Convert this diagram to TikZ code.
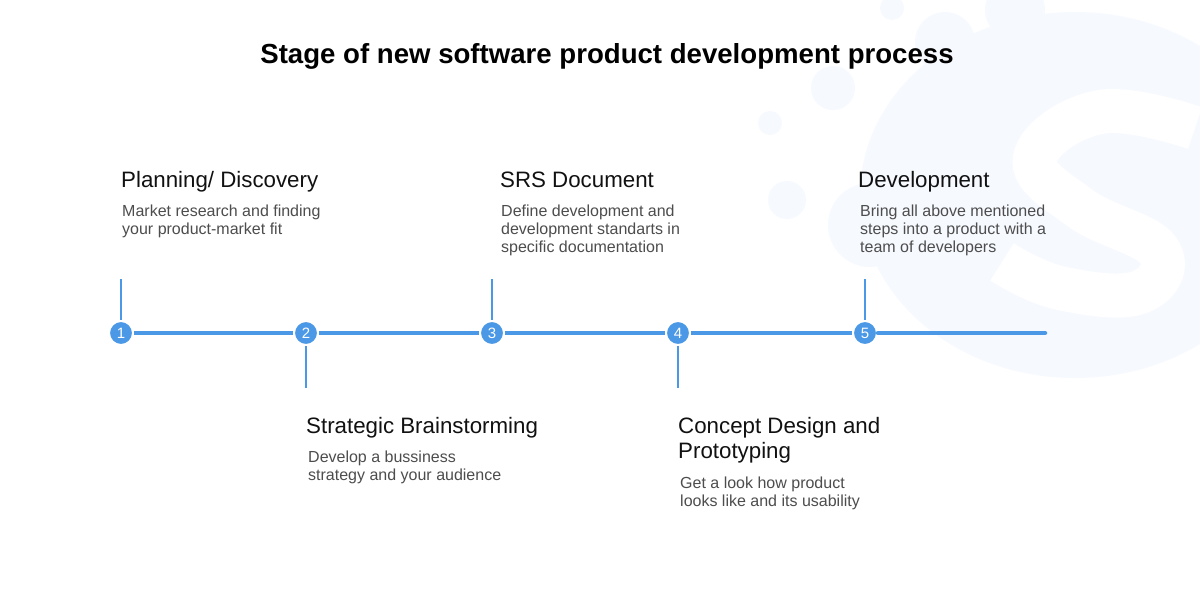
\documentclass[tikz,border=0pt]{standalone}
\usepackage{fontspec}
\setmainfont{Liberation Sans}

\definecolor{azul}{HTML}{4A98E6}
\definecolor{fondo}{HTML}{F6F9FE}
\definecolor{gris}{HTML}{4D4D4D}
\definecolor{negro}{HTML}{111111}

\begin{document}
\begin{tikzpicture}[x=1pt, y=-1pt,
    paso/.style={
        circle,
        fill=azul,
        draw=white,
        line width=2pt,
        minimum size=24pt,
        inner sep=0pt,
        text=white,
        font=\fontsize{15}{15}\selectfont
    },
    etapa/.style={
        anchor=base west,
        inner sep=0pt,
        align=left,
        text=negro,
        font=\fontsize{22.3}{25}\selectfont
    },
    detalle/.style={
        anchor=base west,
        inner sep=0pt,
        align=left,
        text=gris,
        font=\fontsize{16}{18}\selectfont
    },
    linea/.style={
        draw=azul,
        line width=4.5pt
    },
    marca/.style={
        draw=azul,
        line width=1.5pt
    }
]

\useasboundingbox[fill=white] (0,0) rectangle (1200,600);

%------------------------------------------------
% Fondo (logo)
%------------------------------------------------
\fill[fondo] (1075,195) ellipse [x radius=215, y radius=183];
\foreach \x/\y/\r in {770/123/12, 787/200/19, 833/88/22, 892/8/12,
                      945/42/30, 1015/10/30, 870/225/42} {
    \fill[fondo] (\x,\y) circle (\r);
}
\draw[white, line width=44pt] plot[smooth, tension=0.7] coordinates
    {(1195,128) (1100,112) (1035,158) (1080,208) (1158,250) (1140,292) (1060,288) (1002,262)};

%------------------------------------------------
% Título
%------------------------------------------------
\node[anchor=base, inner sep=0pt, text=black,
      font=\bfseries\fontsize{27.6}{30}\selectfont] (titulo) at (607,63)
    {Stage of new software product development process};

%------------------------------------------------
% Línea de tiempo
%------------------------------------------------
\coordinate (fin) at (1045,333);

\foreach \i/\x in {1/121,2/306,3/492,4/678,5/865} {
    \node[paso] (c\i) at (\x,333) {\i};
}

\draw[linea] (c1) -- (c2);
\draw[linea] (c2) -- (c3);
\draw[linea] (c3) -- (c4);
\draw[linea] (c4) -- (c5);
\draw[linea, line cap=round] (c5) -- (fin);

% marcas arriba / abajo
\foreach \i/\x in {1/121,3/492,5/865} {
    \coordinate (t\i) at (\x,279);
    \draw[marca] (t\i) -- (c\i);
}
\foreach \i/\x in {2/306,4/678} {
    \coordinate (t\i) at (\x,388);
    \draw[marca] (c\i) -- (t\i);
}

%------------------------------------------------
% Etapas (base = última línea)
%------------------------------------------------
\node[etapa] (h1) at (121,187) {Planning/ Discovery};
\node[detalle] (d1) at (122,234.5)
    {Market research and finding\\your product-market fit};

\node[etapa] (h2) at (306,433) {Strategic Brainstorming};
\node[detalle] (d2) at (308,480)
    {Develop a bussiness\\strategy and your audience};

\node[etapa] (h3) at (500,187) {SRS Document};
\node[detalle] (d3) at (501,252.5)
    {Define development and\\development standarts in\\specific documentation};

\node[etapa] (h4) at (678,458) {Concept Design and\\Prototyping};
\node[detalle] (d4) at (680,506)
    {Get a look how product\\looks like and its usability};

\node[etapa] (h5) at (858,187) {Development};
\node[detalle] (d5) at (860,252.5)
    {Bring all above mentioned\\steps into a product with a\\team of developers};

\end{tikzpicture}
\end{document}
